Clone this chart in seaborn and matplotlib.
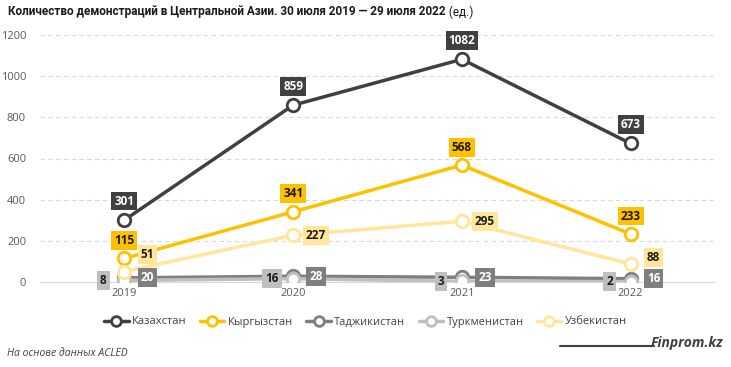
import seaborn as sns
import matplotlib.pyplot as plt
from matplotlib.lines import Line2D

# данные
years = ['2019', '2020', '2021', '2022']
countries = ['Казахстан', 'Кыргызстан', 'Таджикистан', 'Туркменистан', 'Узбекистан']
kaz = [301, 859, 1082, 673]
kyr = [115, 341, 568, 233]
taj = [20, 28, 23, 16]
turk = [8, 16, 3, 2]
uzb = [51, 227, 295, 88]
y_ticks = [0, 200, 400, 600, 800, 1000, 1200]

sns.set_style('white')
plt.rcParams['font.family'] = ['Open Sans', 'DejaVu Sans']

colors = ['#404040', '#FFC000', '#7F7F7F', '#BFBFBF', '#FFE699']
text_colors = ['white', '#1a1a1a', 'white', '#1a1a1a', '#1a1a1a']
series = [kaz, kyr, taj, turk, uzb]
# где ставить подписи: сдвиг в пикселях (dx, dy)
label_pos = [
    [(0, 19)] * 4,
    [(0, 18)] * 4,
    [(23, 0)] * 4,
    [(-21, 0)] * 4,
    [(23, 17), (23, 0), (23, 0), (23, 6)],
]

fig = plt.figure(figsize=(7.31, 3.67), dpi=100)
ax = fig.add_axes([40 / 731, 1 - 282 / 367, 675 / 731, 247 / 367])

for name, vals, c in zip(countries, series, colors):
    sns.lineplot(x=years, y=vals, color=c, marker='o', markersize=9,
                 markerfacecolor='white', markeredgecolor=c, markeredgewidth=2,
                 linewidth=2.5, label=name, ax=ax, legend=False, zorder=3)

for vals, c, tc, pos in zip(series, colors, text_colors, label_pos):
    for i, v in enumerate(vals):
        dx, dy = pos[i]
        ax.annotate(str(v), (i, v), xytext=(dx * 0.72, dy * 0.72), textcoords='offset points',
                    ha='center', va='center', fontsize=8.5, fontweight='bold', color=tc,
                    bbox=dict(boxstyle='square,pad=0.25', fc=c, ec='none'), zorder=5)

ax.set_xlim(-0.5, 3.5)
ax.set_ylim(0, 1200)
ax.set_yticks(y_ticks)
ax.set_yticklabels([str(t) for t in y_ticks])
ax.tick_params(axis='both', labelsize=8, colors='#595959', length=0)
ax.tick_params(axis='y', pad=10)
ax.tick_params(axis='x', pad=4)
for t in y_ticks[1:]:
    ax.axhline(t, color='#D9D9D9', linewidth=0.8, linestyle=(0, (4, 3)), zorder=0)
for s in ['top', 'right', 'left']:
    ax.spines[s].set_visible(False)
ax.spines['bottom'].set_color('#D9D9D9')
ax.set_xlabel('')
ax.set_ylabel('')

handles = [Line2D([0], [0], color=c, linewidth=2.5, marker='o', markersize=7,
                  markerfacecolor='white', markeredgecolor=c, markeredgewidth=2)
           for c in colors]
fig.legend(handles, countries, loc='center', bbox_to_anchor=(0.5, 1 - 322 / 367),
           ncol=5, frameon=False, fontsize=8, handlelength=2.2, columnspacing=1.2,
           handletextpad=0.3, labelcolor='#404040')

t1 = fig.text(8 / 731, 1 - 12 / 367, 'Количество демонстраций в Центральной Азии. 30 июля 2019 — 29 июля 2022',
              fontsize=8.5, fontweight='bold', va='center', ha='left', color='#1a1a1a',
              family=['Roboto', 'DejaVu Sans'])
fig.canvas.draw()
ax.annotate(' (ед.)', xy=(1, 0.5), xycoords=t1, va='center', ha='left', fontsize=8.5, color='#1a1a1a',
            family=['Roboto', 'DejaVu Sans'])

fig.text(7 / 731, 1 - 354 / 367, 'На основе данных ACLED', fontsize=7.5, style='italic',
         color='#404040', va='center')
fig.add_artist(Line2D([560 / 731, 654 / 731], [1 - 346 / 367] * 2, color='#404040', linewidth=1.5))
fig.text(723 / 731, 1 - 343 / 367, 'Finprom.kz', fontsize=10, style='italic', fontweight='bold',
         color='#404040', va='center', ha='right')

fig.savefig('out.png', dpi=100)
